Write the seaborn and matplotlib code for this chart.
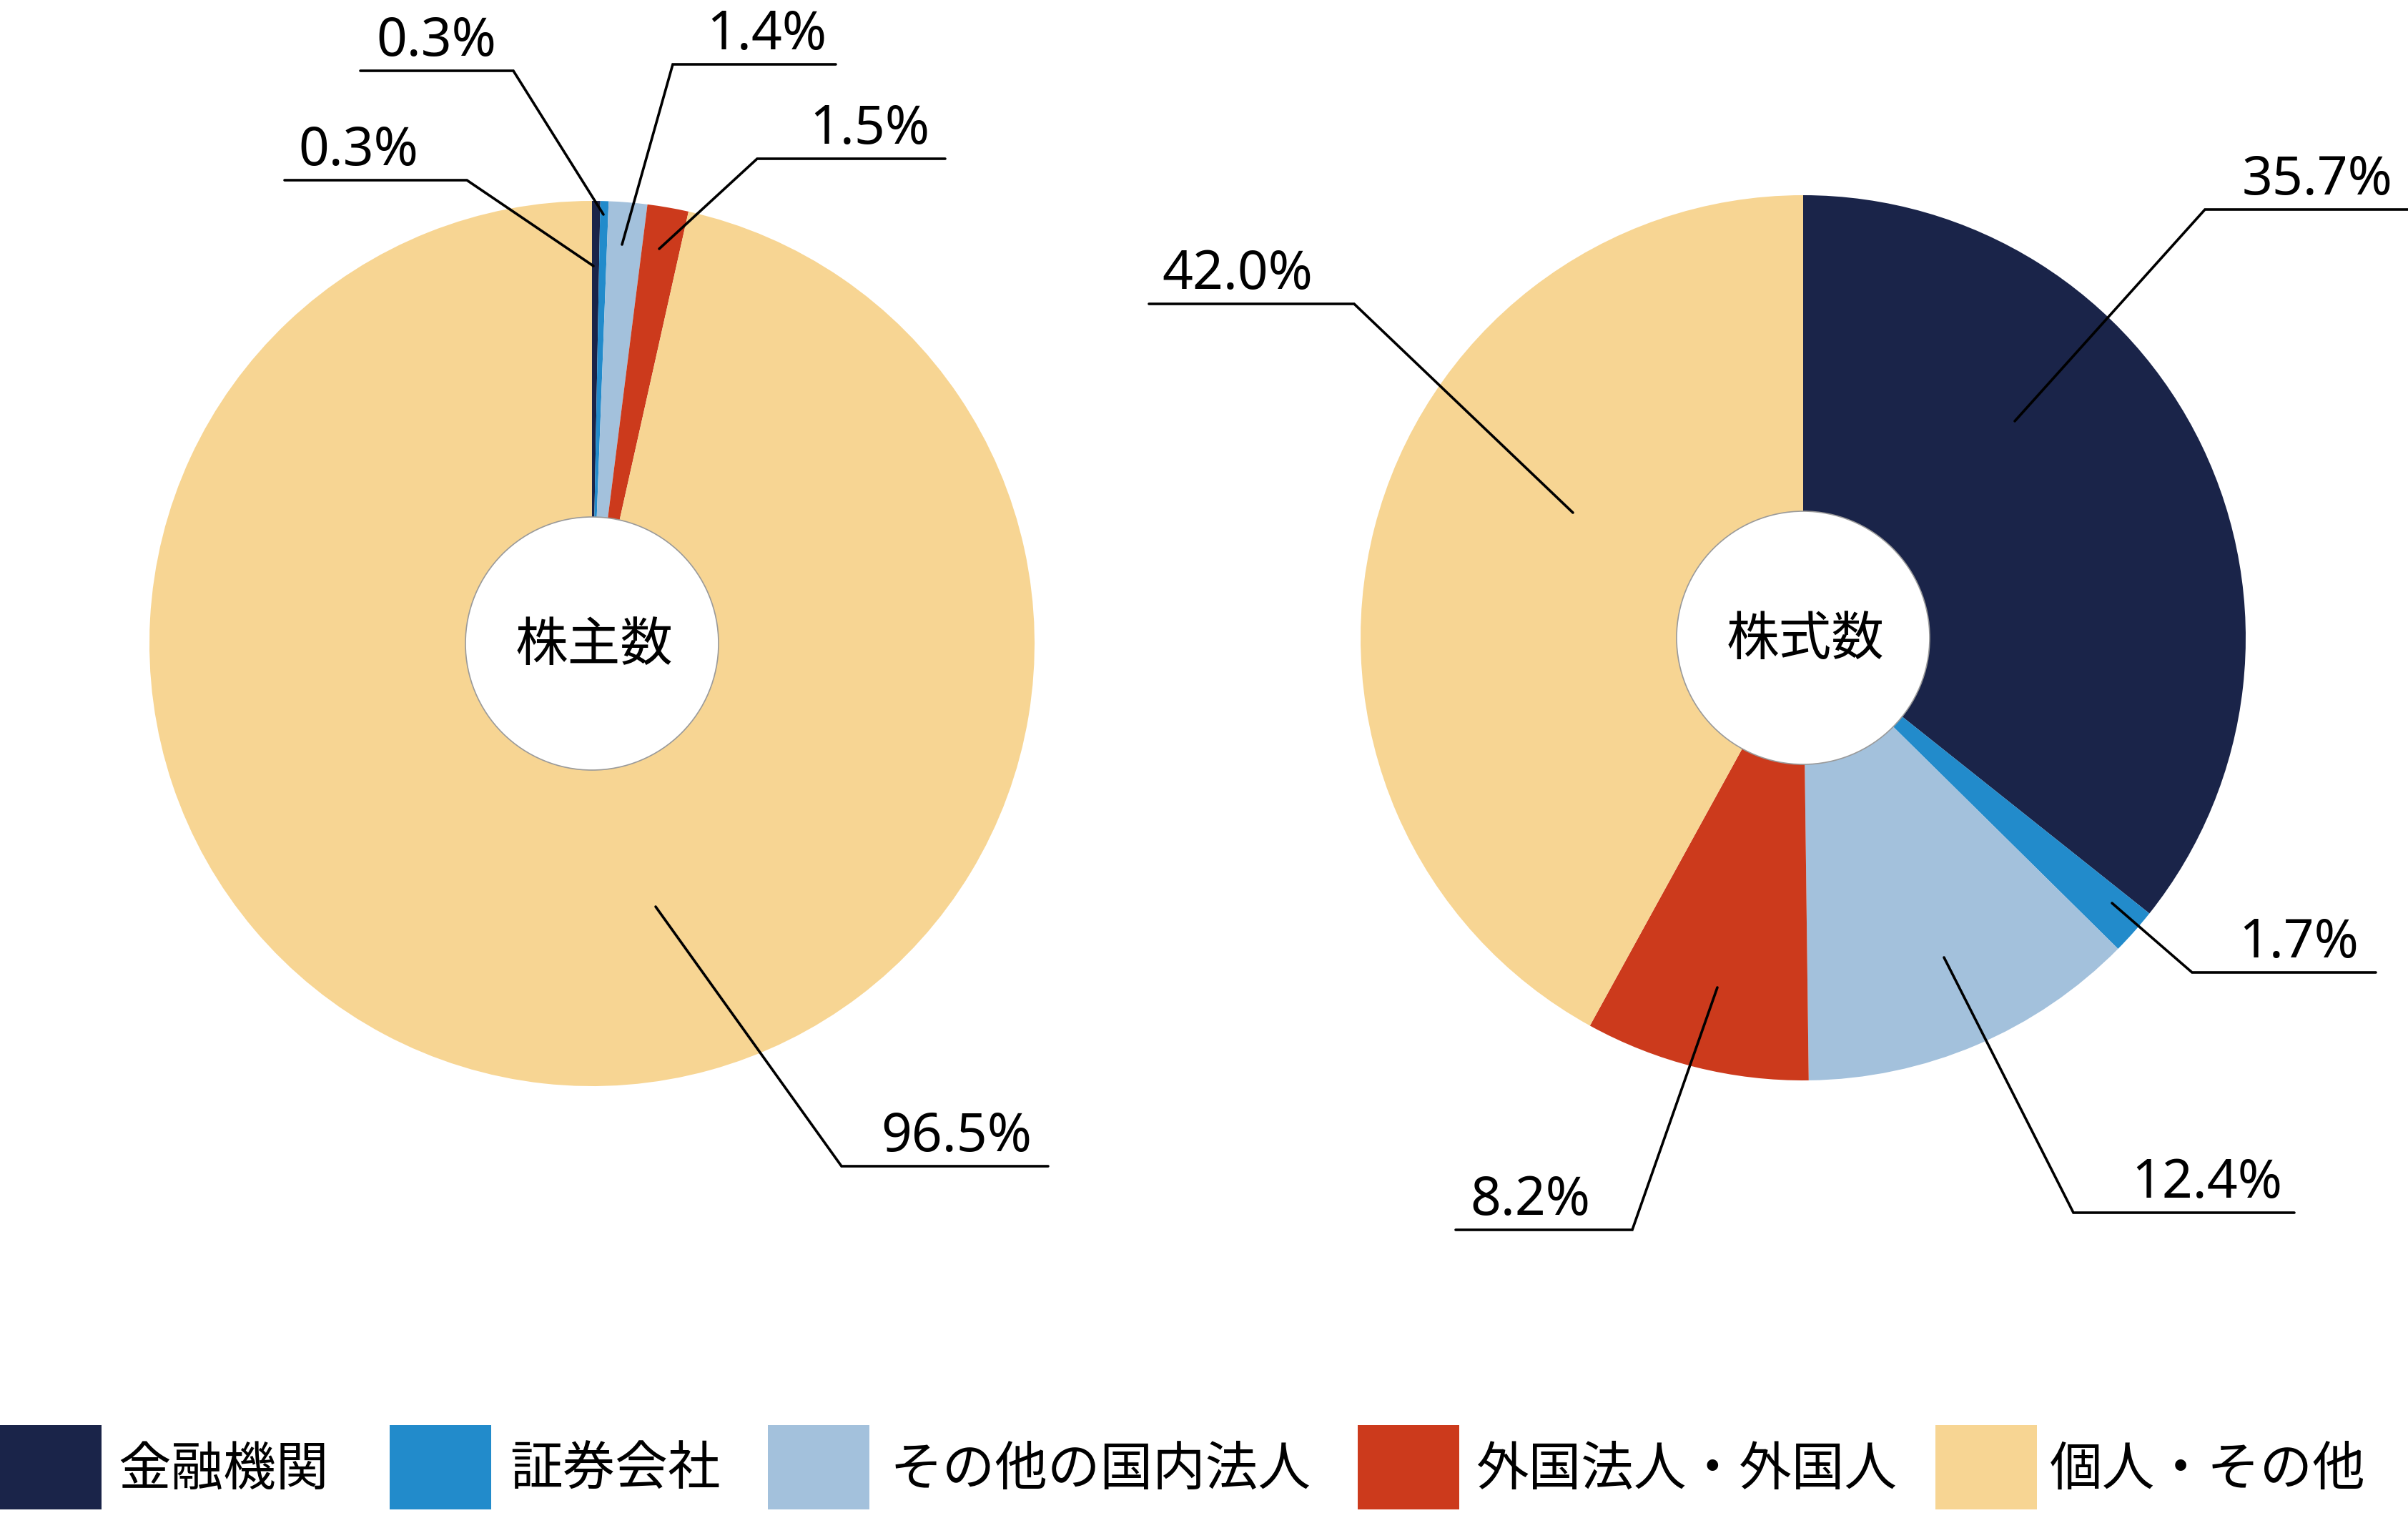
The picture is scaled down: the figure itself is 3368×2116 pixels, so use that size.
import numpy as np
import pandas as pd
import matplotlib
matplotlib.use("Agg")
import matplotlib.pyplot as plt
import seaborn as sns
from matplotlib.patches import Circle, Rectangle

# Data
categories = ["金融機関", "証券会社", "その他の国内法人", "外国法人・外国人", "個人・その他"]
shareholders = [0.3, 0.3, 1.4, 1.5, 96.5]   # 株主数 (%)
shares = [35.7, 1.7, 12.4, 8.2, 42.0]       # 株式数 (%)
colors = ["#1a2449", "#228bcb", "#a3c1dc", "#cc3a1c", "#f7d593"]

df = pd.DataFrame({"category": categories, "株主数": shareholders, "株式数": shares})

sns.set_theme(style="white")
plt.rcParams["font.family"] = ["Noto Sans CJK JP", "DejaVu Sans"]
palette = sns.color_palette(colors)

W, H = 3368, 2116
fig = plt.figure(figsize=(W / 100, H / 100), dpi=100)
ax = fig.add_axes([0, 0, 1, 1])

def Y(y):
    return H - y

R = 619
HOLE = 177
pies = [
    ("株主数", (828, 900)),
    ("株式数", (2522, 892)),
]

# leader layout in image pixels: anchor, elbow, horizontal end x, text left x
leaders = {
    "株主数": [
        ((830, 372), (653, 252), 398, 421),
        ((844, 300), (718, 99), 504, 530),
        ((870, 342), (941, 90), 1169, 992),
        ((922, 348), (1059, 222), 1322, 1136),
        ((917, 1268), (1177, 1631), 1466, 1236),
    ],
    "株式数": [
        ((2818, 589), (3084, 293), 3368, 3140),
        ((2954, 1263), (3066, 1360), 3323, 3135),
        ((2719, 1339), (2900, 1696), 3209, 2985),
        ((2402, 1381), (2283, 1720), 2036, 2060),
        ((2200, 717), (1894, 425), 1607, 1629),
    ],
}

for name, (cx, cy) in pies:
    ax.pie(df[name], colors=palette, startangle=90, counterclock=False,
           center=(cx, Y(cy)), radius=R, frame=True,
           wedgeprops=dict(linewidth=0, edgecolor="none"))
    ax.add_patch(Circle((cx, Y(cy)), HOLE, facecolor="white",
                        edgecolor="#9a9a9a", linewidth=1.2, zorder=3))
    ax.text(cx + 3, Y(cy + 3), name, ha="center", va="center",
            fontsize=53, color="black", zorder=4)
    for val, (anc, elb, xend, xt) in zip(df[name], leaders[name]):
        ax.plot([anc[0], elb[0], xend], [Y(anc[1]), Y(elb[1]), Y(elb[1])],
                color="black", linewidth=2.6, solid_joinstyle="miter", zorder=5)
        ax.text(xt - 4, Y(elb[1] - 21), f"{val:.1f}%", ha="left", va="baseline",
                fontsize=54, family=["Noto Sans", "DejaVu Sans"], color="black", zorder=5)

# legend
leg_sq = [0, 545, 1074, 1899, 2707]
leg_tx = [168, 716, 1247, 2067, 2870]
for c, xs, xt, lab in zip(palette, leg_sq, leg_tx, categories):
    ax.add_patch(Rectangle((xs, Y(2111)), 142, 118, facecolor=c, edgecolor="none"))
    ax.text(xt - 3, Y(2056), lab, ha="left", va="center", fontsize=53, color="black")

ax.set_xlim(0, W)
ax.set_ylim(0, H)
ax.set_aspect("equal")
ax.axis("off")

fig.savefig("out.png", dpi=100, facecolor="white")
